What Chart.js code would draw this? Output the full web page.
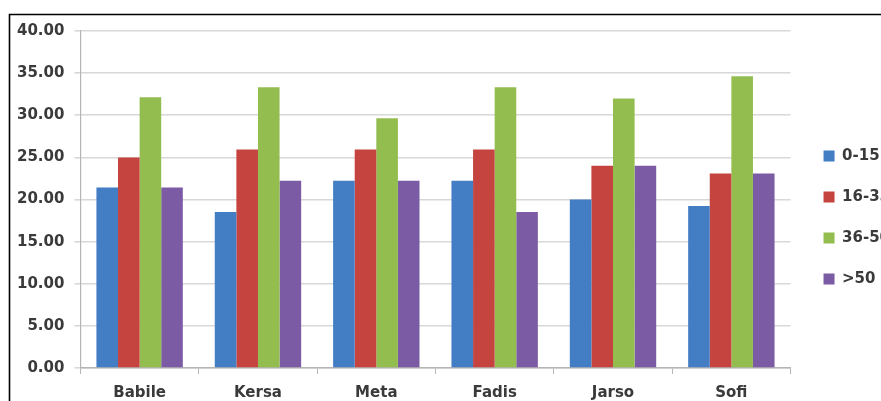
<!DOCTYPE html>
<html>
<head>
<meta charset="utf-8">
<script src="https://cdn.jsdelivr.net/npm/chart.js@4/dist/chart.umd.min.js"></script>
<style>
  html, body { margin: 0; padding: 0; background: #fff; overflow: hidden; }
  #wrap { width: 881px; height: 401px; overflow: hidden; position: relative; }
  canvas { position: absolute; left: 0; top: 0; }
</style>
</head>
<body>
<div id="wrap"><canvas id="chart" width="893" height="412"></canvas></div>
<script>
// Districts along the category axis
const districts = ['Babile', 'Kersa', 'Meta', 'Fadis', 'Jarso', 'Sofi'];

// Age groups shown in the legend
const ageGroups = ['0-15', '16-35', '36-50', '>50'];

// Share of respondents (%) per age group, one value per district
const age0to15  = [21.43, 18.52, 22.22, 22.22, 20.00, 19.23];
const age16to35 = [25.00, 25.93, 25.93, 25.93, 24.00, 23.08];
const age36to50 = [32.14, 33.33, 29.63, 33.33, 32.00, 34.62];
const ageOver50 = [21.43, 22.22, 22.22, 18.52, 24.00, 23.08];

// Value axis tick values
const yTicks = [0, 5, 10, 15, 20, 25, 30, 35, 40];

const seriesValues = [age0to15, age16to35, age36to50, ageOver50];
const seriesColors = ['#437dc4', '#c5443f', '#94bd50', '#7c5ba5'];

const labelFont = { family: 'DejaVu Sans', weight: 'bold', size: 15 };
const textColor = '#3a3a3a';

// Black frame along the top and left edges of the figure
const framePlugin = {
  id: 'frame',
  afterDraw(chart) {
    const ctx = chart.ctx;
    ctx.save();
    ctx.strokeStyle = '#000';
    ctx.lineWidth = 1.6;
    ctx.beginPath();
    ctx.moveTo(9.5, chart.height + 2);
    ctx.lineTo(9.5, 14.5);
    ctx.lineTo(chart.width + 2, 14.5);
    ctx.stroke();
    ctx.restore();
  }
};

// Leave a wider gap between the plot and the legend, and lift the legend a little
const legendGapPlugin = {
  id: 'legendGap',
  afterLayout(chart) {
    const lg = chart.legend;
    if (lg) {
      lg.left += 7;
      lg.right += 7;
      lg.top -= 4;
      lg.bottom -= 4;
    }
  }
};

new Chart(document.getElementById('chart'), {
  type: 'bar',
  data: {
    labels: districts,
    datasets: ageGroups.map((name, i) => ({
      label: name,
      data: seriesValues[i],
      backgroundColor: seriesColors[i],
      borderWidth: 0,
      categoryPercentage: 0.73,
      barPercentage: 1.0
    }))
  },
  options: {
    responsive: false,
    animation: false,
    layout: { padding: { top: 31, left: 7, right: 0, bottom: 0 } },
    plugins: {
      tooltip: { enabled: false },
      legend: {
        position: 'right',
        align: 'center',
        labels: {
          font: { family: 'DejaVu Sans', weight: 'bold', size: 15 },
          color: textColor,
          boxWidth: 11,
          boxHeight: 11,
          padding: 26
        }
      }
    },
    scales: {
      x: {
        grid: {
          display: true,
          offset: true,
          drawOnChartArea: false,
          drawTicks: true,
          tickLength: 6,
          color: '#b5b5b5',
          lineWidth: 1
        },
        border: { display: true, color: '#b5b5b5', width: 1.5 },
        ticks: { font: labelFont, color: textColor, padding: 10 }
      },
      y: {
        min: 0,
        max: 40,
        afterBuildTicks(axis) { axis.ticks = yTicks.map(v => ({ value: v })); },
        grid: {
          color: '#d8d8d8',
          lineWidth: 1.6,
          tickLength: 6,
          drawTicks: true
        },
        border: { display: true, color: '#b5b5b5', width: 1.2 },
        ticks: {
          font: labelFont,
          color: textColor,
          padding: 10,
          callback: v => Number(v).toFixed(2)
        }
      }
    }
  },
  plugins: [framePlugin, legendGapPlugin]
});
</script>
</body>
</html>
